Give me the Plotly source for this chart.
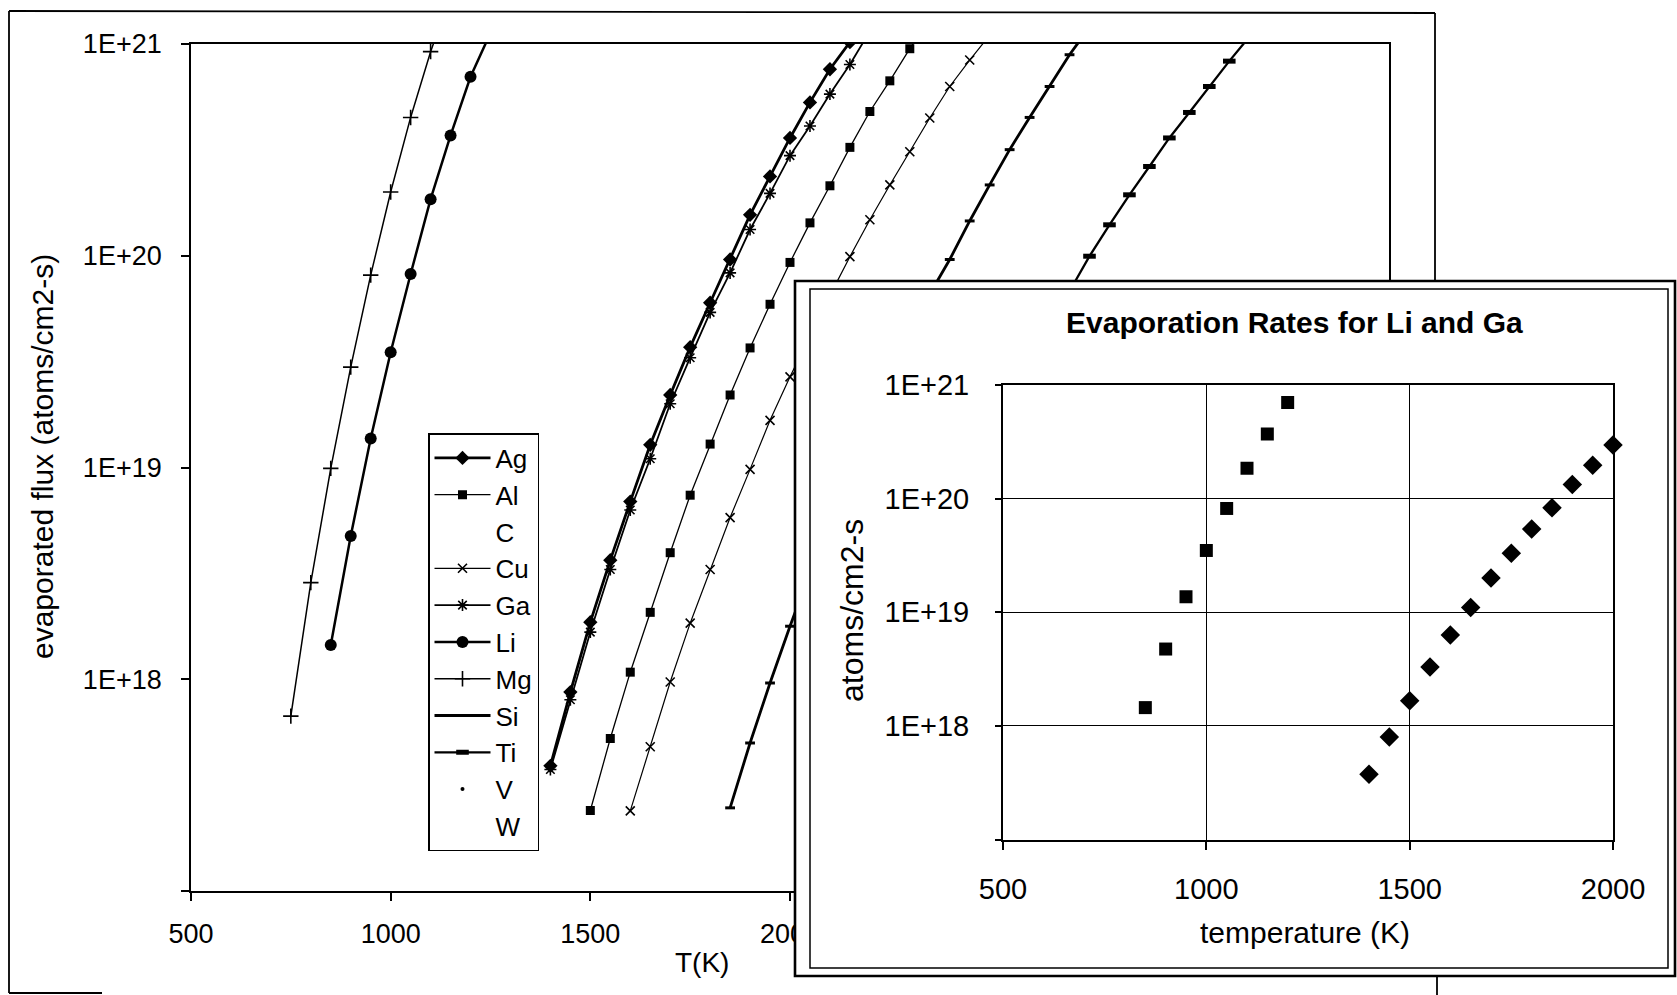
import plotly.graph_objects as go

W, H = 1677, 995

# ---------------- data ----------------
ag_T = [1400, 1450, 1500, 1550, 1600, 1650, 1700, 1750, 1800, 1850, 1900, 1950, 2000, 2050, 2100, 2150]
ag_flux = [3.9e17, 8.7e17, 1.86e18, 3.65e18, 6.9e18, 1.28e19, 2.2e19, 3.7e19, 6.0e19, 9.6e19,
           1.56e20, 2.37e20, 3.6e20, 5.3e20, 7.6e20, 1.02e21]

al_T = [1500, 1550, 1600, 1650, 1700, 1750, 1800, 1850, 1900, 1950, 2000, 2050, 2100, 2150, 2200, 2250, 2300, 2350]
al_flux = [2.4e17, 5.25e17, 1.08e18, 2.07e18, 3.96e18, 7.4e18, 1.29e19, 2.2e19, 3.67e19, 5.9e19,
           9.3e19, 1.43e20, 2.14e20, 3.25e20, 4.8e20, 6.7e20, 9.5e20, 1.3e21]

cu_T = [1600, 1650, 1700, 1750, 1800, 1850, 1900, 1950, 2000, 2050, 2100, 2150, 2200, 2250, 2300,
        2350, 2400, 2450, 2500]
cu_flux = [2.39e17, 4.8e17, 9.7e17, 1.84e18, 3.3e18, 5.8e18, 9.8e18, 1.67e19, 2.68e19, 4.2e19,
           6.5e19, 9.9e19, 1.48e20, 2.16e20, 3.1e20, 4.47e20, 6.3e20, 8.4e20, 1.1e21]

ga_T = [1400, 1450, 1500, 1550, 1600, 1650, 1700, 1750, 1800, 1850, 1900, 1950, 2000, 2050, 2100, 2150, 2200]
ga_flux = [3.75e17, 8.0e17, 1.67e18, 3.3e18, 6.3e18, 1.1e19, 2.0e19, 3.3e19, 5.4e19, 8.3e19,
           1.33e20, 1.97e20, 2.97e20, 4.1e20, 5.8e20, 8.0e20, 1.15e21]

li_T = [850, 900, 950, 1000, 1050, 1100, 1150, 1200, 1250]
li_flux = [1.45e18, 4.75e18, 1.37e19, 3.5e19, 8.2e19, 1.85e20, 3.7e20, 7.0e20, 1.13e21]

mg_T = [750, 800, 850, 900, 950, 1000, 1050, 1100, 1150]
mg_flux = [6.7e17, 2.86e18, 9.9e18, 2.98e19, 8.1e19, 2.0e20, 4.5e20, 9.2e20, 1.7e21]

si_T = [1850, 1900, 1950, 2000, 2050, 2100, 2150, 2200, 2250, 2300, 2350, 2400, 2450, 2500,
        2550, 2600, 2650, 2700, 2750]
si_flux = [2.47e17, 5.0e17, 9.6e17, 1.78e18, 3.2e18, 5.6e18, 9.8e18, 1.6e19, 2.7e19, 4.4e19,
           6.6e19, 9.6e19, 1.46e20, 2.16e20, 3.17e20, 4.5e20, 6.3e20, 8.9e20, 1.2e21]

ti_T = [2700, 2750, 2800, 2850, 2900, 2950, 3000, 3050, 3100, 3150]
ti_flux = [6.8e19, 9.95e19, 1.4e20, 1.94e20, 2.64e20, 3.6e20, 4.75e20, 6.3e20, 8.3e20, 1.08e21]

inset_ga_max_T = 2000

y_tickvals = [1e17, 1e18, 1e19, 1e20, 1e21]
y_ticktext = ["", "1E+18", "1E+19", "1E+20", "1E+21"]
x_tickvals_main = [500, 1000, 1500, 2000]   # the later labels lie under the inset
x_tickvals_inset = [500, 1000, 1500, 2000]

# ---------------- helpers ----------------
def px(x):
    return x / W


def py(y):
    return 1 - y / H


FONT = "Liberation Sans, Arial, Helvetica, sans-serif"
NARROW = "Liberation Sans Narrow, Arial Narrow, Liberation Sans, Arial, sans-serif"
K = "black"

fig = go.Figure()


def main_trace(name, T, F, lw, symbol, msize, mlw=0, dash="solid"):
    fig.add_trace(go.Scatter(
        x=T, y=F, name=name, mode="lines+markers",
        line=dict(color=K, width=lw, dash=dash),
        marker=dict(symbol=symbol, size=msize, color=K, line=dict(color=K, width=mlw)),
        xaxis="x", yaxis="y", hoverinfo="skip"))


def legend_only(name, mode, marker=None, line=None):
    fig.add_trace(go.Scatter(
        x=[None], y=[None], name=name, mode=mode,
        marker=marker or dict(size=1, color="rgba(0,0,0,0)"),
        line=line or dict(width=0),
        xaxis="x", yaxis="y", hoverinfo="skip"))


main_trace("Ag", ag_T, ag_flux, 2.8, "diamond", 11)
main_trace("Al", al_T, al_flux, 1.3, "square", 9)
legend_only("C", "markers")
main_trace("Cu", cu_T, cu_flux, 1.2, "x-thin-open", 9, 1.6)
main_trace("Ga", ga_T, ga_flux, 1.8, "asterisk-open", 10, 1.6)
main_trace("Li", li_T, li_flux, 2.5, "circle", 12)
main_trace("Mg", mg_T, mg_flux, 1.5, "cross-thin-open", 11, 1.6)
main_trace("Si", si_T, si_flux, 2.8, "line-ew-open", 7, 3)
main_trace("Ti", ti_T, ti_flux, 2.3, "line-ew-open", 9, 5)
legend_only("V", "markers", marker=dict(size=4, color=K, symbol="circle"))
legend_only("W", "markers")

# opaque cover behind the inset (its own overlapping subplot)
fig.add_trace(go.Scatter(x=[0.5], y=[0.5], xaxis="x2", yaxis="y2", mode="markers",
                         marker=dict(opacity=0), showlegend=False, hoverinfo="skip"))

# inset traces
ins_ga_T = [t for t in ga_T if t <= inset_ga_max_T]
ins_ga_F = [f for t, f in zip(ga_T, ga_flux) if t <= inset_ga_max_T]
fig.add_trace(go.Scatter(x=li_T, y=li_flux, mode="markers", xaxis="x3", yaxis="y3",
                         marker=dict(symbol="square", size=13, color=K),
                         showlegend=False, hoverinfo="skip", cliponaxis=True))
fig.add_trace(go.Scatter(x=ins_ga_T, y=ins_ga_F, mode="markers", xaxis="x3", yaxis="y3",
                         marker=dict(symbol="diamond", size=15, color=K),
                         showlegend=False, hoverinfo="skip", cliponaxis=False))

# ---------------- shapes (frames) ----------------
shapes = []


def seg(x0, y0, x1, y1, w=1.8):
    shapes.append(dict(type="line", xref="paper", yref="paper",
                       x0=px(x0), y0=py(y0), x1=px(x1), y1=py(y1),
                       line=dict(color=K, width=w), layer="above"))


def rect(x0, y0, x1, y1, w):
    shapes.append(dict(type="rect", xref="paper", yref="paper",
                       x0=px(x0), y0=py(y0), x1=px(x1), y1=py(y1),
                       line=dict(color=K, width=w), fillcolor="rgba(0,0,0,0)", layer="above"))


# outer frame of the main chart (partly hidden by the inset)
seg(9, 11, 1435, 13)
seg(9, 11, 9, 993)
seg(9, 993, 102, 993)
seg(1435, 13, 1435, 281)
seg(1437, 976, 1437, 995)
# inset double frame
rect(795, 281, 1675, 976, 2.6)
rect(810, 289, 1668, 968, 1.5)

# ---------------- annotations ----------------
ann = [
    dict(text="evaporated flux (atoms/cm2-s)", x=px(43), y=py(457), textangle=-90,
         font=dict(size=30, family=FONT, color=K)),
    dict(text="T(K)", x=px(702), y=py(962), font=dict(size=28, family=FONT, color=K)),
    dict(text="<b>Evaporation Rates for Li and Ga</b>", x=px(1294), y=py(323),
         font=dict(size=30, family=FONT, color=K)),
    dict(text="temperature (K)", x=px(1305), y=py(932), font=dict(size=30, family=FONT, color=K)),
    dict(text="atoms/cm2-s", x=px(852), y=py(611), textangle=-90,
         font=dict(size=32, family=FONT, color=K)),
]
for a in ann:
    a.update(xref="paper", yref="paper", showarrow=False, xanchor="center", yanchor="middle")

fig.update_layout(
    template="none",
    width=W, height=H,
    margin=dict(l=0, r=0, t=0, b=0, pad=0, autoexpand=False),
    paper_bgcolor="white", plot_bgcolor="white",
    font=dict(family=FONT, color=K),
    showlegend=True,
    legend=dict(x=px(428), y=py(433), xanchor="left", yanchor="top",
                bgcolor="white", bordercolor=K, borderwidth=1.5,
                font=dict(size=26, family=NARROW, color=K),
                itemwidth=56, traceorder="normal", itemclick=False, itemdoubleclick=False),
    xaxis=dict(domain=[px(191), px(1389)], range=[500, 3500], tickvals=x_tickvals_main,
               ticks="outside", ticklen=8, tickwidth=1.5, tickcolor=K, automargin=False,
               showline=True, linewidth=2, linecolor=K, mirror=True,
               showgrid=False, zeroline=False, anchor="y",
               tickfont=dict(size=27, family=FONT, color=K), ticklabelstandoff=10),
    yaxis=dict(domain=[py(891), py(44)], type="log", range=[17, 21],
               tickvals=y_tickvals, ticktext=y_ticktext, automargin=False,
               ticks="outside", ticklen=8, tickwidth=1.5, tickcolor=K,
               showline=True, linewidth=1.8, linecolor=K, mirror=True,
               showgrid=False, zeroline=False, anchor="x",
               tickfont=dict(size=27, family=FONT, color=K), ticklabelstandoff=14),
    xaxis2=dict(domain=[px(795), px(1675)], range=[0, 1], visible=True, showgrid=False,
                automargin=False, zeroline=False, showticklabels=False, ticks="",
                showline=False, anchor="y2"),
    yaxis2=dict(domain=[py(976), py(281)], range=[0, 1], visible=True, showgrid=False,
                automargin=False, zeroline=False, showticklabels=False, ticks="",
                showline=False, anchor="x2"),
    xaxis3=dict(domain=[px(1003), px(1613)], range=[500, 2000], tickvals=x_tickvals_inset,
                ticks="outside", ticklen=8, tickwidth=1.5, tickcolor=K, automargin=False,
                showline=True, linewidth=2.2, linecolor=K, mirror=True,
                showgrid=True, gridcolor=K, gridwidth=1.3, zeroline=False, anchor="y3",
                tickfont=dict(size=29, family=FONT, color=K), ticklabelstandoff=14),
    yaxis3=dict(domain=[py(839.6), py(385)], type="log", range=[17, 21],
                tickvals=y_tickvals, ticktext=y_ticktext, automargin=False,
                ticks="outside", ticklen=6, tickwidth=1.5, tickcolor=K,
                showline=True, linewidth=2, linecolor=K, mirror=True,
                showgrid=True, gridcolor=K, gridwidth=1.1, zeroline=False, anchor="x3",
                tickfont=dict(size=29, family=FONT, color=K), ticklabelstandoff=20),
    shapes=shapes,
    annotations=ann,
)

fig.write_html("out.html")
